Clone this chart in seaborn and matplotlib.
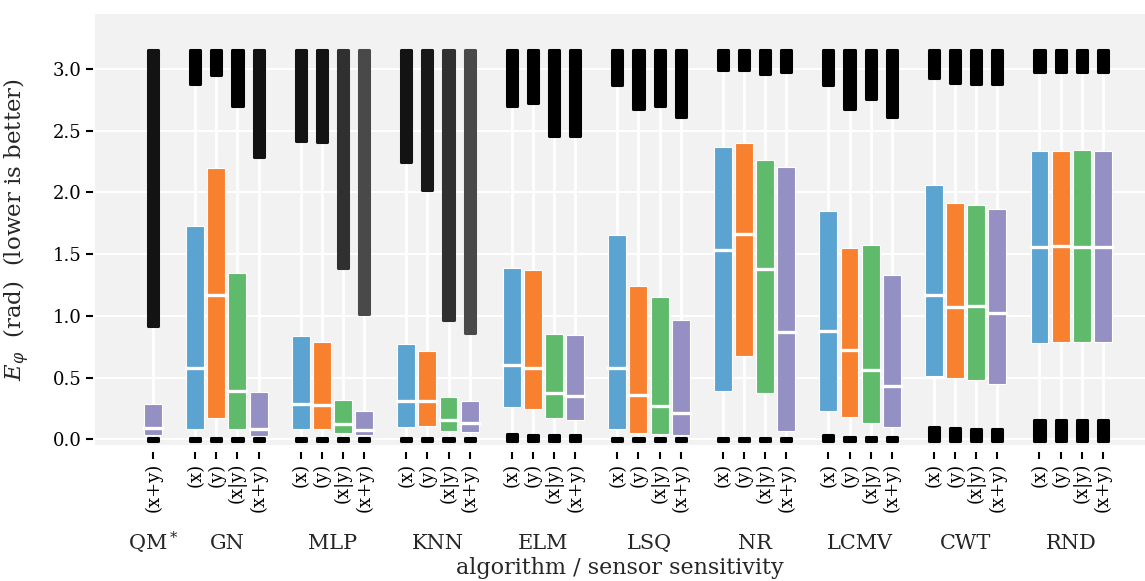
import numpy as np
import pandas as pd
import matplotlib
matplotlib.use("Agg")
import matplotlib.pyplot as plt
import matplotlib.transforms as mtransforms
import seaborn as sns

# algorithm groups and sensor sensitivities
groups = ["QM$^*$", "GN", "MLP", "KNN", "ELM", "LSQ", "NR", "LCMV", "CWT", "RND"]
sens = ["(x)", "(y)", "(x|y)", "(x+y)"]

# one entry per box: algorithm, sensitivity
box_group = ["QM$^*$"] + [g for g in groups[1:] for _ in sens]
box_sens = ["(x+y)"] + sens * (len(groups) - 1)

# quartiles (rad)
q1 = [0.032,
      0.087, 0.176, 0.081, 0.027,
      0.087, 0.081, 0.049, 0.038,
      0.100, 0.105, 0.067, 0.059,
      0.262, 0.246, 0.173, 0.154,
      0.087, 0.054, 0.046, 0.032,
      0.392, 0.675, 0.375, 0.070,
      0.229, 0.184, 0.135, 0.103,
      0.513, 0.500, 0.484, 0.451,
      0.783, 0.789, 0.789, 0.789]
med = [0.095,
       0.578, 1.167, 0.392, 0.081,
       0.289, 0.276, 0.127, 0.073,
       0.308, 0.308, 0.159, 0.132,
       0.605, 0.578, 0.378, 0.348,
       0.578, 0.362, 0.270, 0.216,
       1.532, 1.664, 1.378, 0.870,
       0.881, 0.721, 0.559, 0.432,
       1.172, 1.072, 1.083, 1.027,
       1.558, 1.567, 1.560, 1.558]
q3 = [0.289,
      1.729, 2.194, 1.351, 0.383,
      0.837, 0.789, 0.316, 0.229,
      0.770, 0.716, 0.343, 0.313,
      1.388, 1.370, 0.851, 0.848,
      1.659, 1.245, 1.153, 0.967,
      2.369, 2.399, 2.261, 2.204,
      1.848, 1.548, 1.572, 1.329,
      2.064, 1.918, 1.902, 1.864,
      2.336, 2.336, 2.340, 2.336]

# outliers: upper cloud runs from flier_hi_min up to pi, lower one from 0 to flier_lo_max
flier_hi_min = [0.93,
                2.89, 2.96, 2.71, 2.30,
                2.43, 2.42, 1.40, 1.03,
                2.26, 2.03, 0.98, 0.87,
                2.71, 2.74, 2.47, 2.47,
                2.88, 2.69, 2.71, 2.62,
                3.00, 3.00, 2.97, 2.99,
                2.88, 2.69, 2.77, 2.62,
                2.94, 2.90, 2.89, 2.89,
                2.99, 2.99, 2.99, 2.99]
flier_hi_max = [3.14] * 37
flier_lo_max = [0.0,
                0.0, 0.0, 0.0, 0.0,
                0.0, 0.0, 0.0, 0.0,
                0.0, 0.0, 0.0, 0.0,
                0.030, 0.025, 0.020, 0.020,
                0.0, 0.0, 0.0, 0.0,
                0.0, 0.0, 0.0, 0.0,
                0.020, 0.010, 0.010, 0.010,
                0.088, 0.083, 0.074, 0.071,
                0.142, 0.144, 0.142, 0.144]
# how dense the upper outlier cloud looks (1 = solid black)
flier_density = [0.92,
                 1, 1, 1, 0.93,
                 0.92, 0.92, 0.8, 0.7,
                 0.92, 0.9, 0.8, 0.7,
                 1, 1, 1, 1,
                 1, 1, 1, 1,
                 1, 1, 1, 1,
                 1, 1, 1, 1,
                 1, 1, 1, 1,
                 1, 1, 1, 1]

colors = {"(x)": "#5ba3d0", "(y)": "#f8812f", "(x|y)": "#5fba6b", "(x+y)": "#9490c3"}

# box positions: one empty slot between algorithm groups
pos = [0]
for gi in range(1, len(groups)):
    start = 2 + (gi - 1) * 5
    pos += [start + k for k in range(4)]
pos = np.array(pos, dtype=float)

# five-number summary per box, whiskers reach the outlier clouds
rows = []
for i in range(len(pos)):
    for v in [flier_lo_max[i], q1[i], med[i], q3[i], flier_hi_min[i]]:
        rows.append({"pos": pos[i], "val": v, "sens": box_sens[i]})
df = pd.DataFrame(rows)

sns.set_theme(style="darkgrid", rc={
    "axes.facecolor": "#f2f2f2",
    "grid.color": "white",
    "grid.linewidth": 1.5,
    "xtick.bottom": True,
    "ytick.left": True,
    "xtick.color": "black",
    "ytick.color": "black",
    "xtick.major.size": 5,
    "ytick.major.size": 5,
    "xtick.major.width": 1.5,
    "ytick.major.width": 1.5,
    "xtick.labelsize": 13,
    "ytick.labelsize": 13,
})
plt.rcParams["font.family"] = ["DejaVu Serif"]
plt.rcParams["mathtext.fontset"] = "dejavuserif"

fig = plt.figure(figsize=(11.45, 5.81), dpi=100)
ax = fig.add_axes([95 / 1145, 1 - 445 / 581, 1 - 95 / 1145, 431 / 581])

sns.boxplot(data=df, x="pos", y="val", hue="sens", hue_order=sens,
            palette=colors, native_scale=True, dodge=False, width=0.85,
            whis=np.inf, showcaps=False, showfliers=False, saturation=1,
            linecolor="white", legend=False, ax=ax,
            boxprops={"linewidth": 0.8},
            whiskerprops={"linewidth": 2.0},
            medianprops={"linewidth": 2.4, "solid_capstyle": "projecting"})

# outlier clouds, lighter grey where the points are sparse
pad = 0.012
for i in range(len(pos)):
    shade = str(round((1 - flier_density[i]) * 0.95, 3))
    ax.bar(pos[i], flier_hi_max[i] - flier_hi_min[i] + 2 * pad,
           bottom=flier_hi_min[i] - pad, width=0.48, color=shade,
           edgecolor=shade, linewidth=2.2, joinstyle="round", zorder=4)
    ax.bar(pos[i], flier_lo_max[i] + 2 * pad, bottom=-pad, width=0.48,
           color="black", edgecolor="black", linewidth=2.2,
           joinstyle="round", zorder=4)

for s in ax.spines.values():
    s.set_visible(False)
ax.spines["bottom"].set_position(("outward", 5))
ax.spines["left"].set_position(("outward", 1.5))

ax.set_xlim(-2.75, 47.0)
ax.set_ylim(-0.045, 3.445)
ax.grid(axis="x", visible=False)
yt = [0.0, 0.5, 1.0, 1.5, 2.0, 2.5, 3.0]
ax.set_yticks(yt)
ax.set_yticklabels([f"{t:.1f}" for t in yt])
ax.set_xticks(pos)
ax.set_xticklabels(box_sens)
ax.tick_params(axis="x", labelrotation=90, labelsize=13, pad=3)
ax.tick_params(axis="y", labelsize=13, pad=3)

# algorithm names under the sensitivity labels
trans = mtransforms.blended_transform_factory(ax.transData, ax.transAxes)
for g in groups:
    gx = np.mean([p for p, b in zip(pos, box_group) if b == g])
    ax.text(gx, -0.228, g, transform=trans, ha="center", va="center", fontsize=15)

ax.set_xlabel("algorithm / sensor sensitivity", fontsize=16)
ax.xaxis.set_label_coords(0.5, -0.26)
ax.set_ylabel(r"$E_\varphi$  (rad)  (lower is better)", fontsize=16.5)
ax.yaxis.set_label_coords(-0.06, 0.5)

fig.savefig("out.png", dpi=100)
